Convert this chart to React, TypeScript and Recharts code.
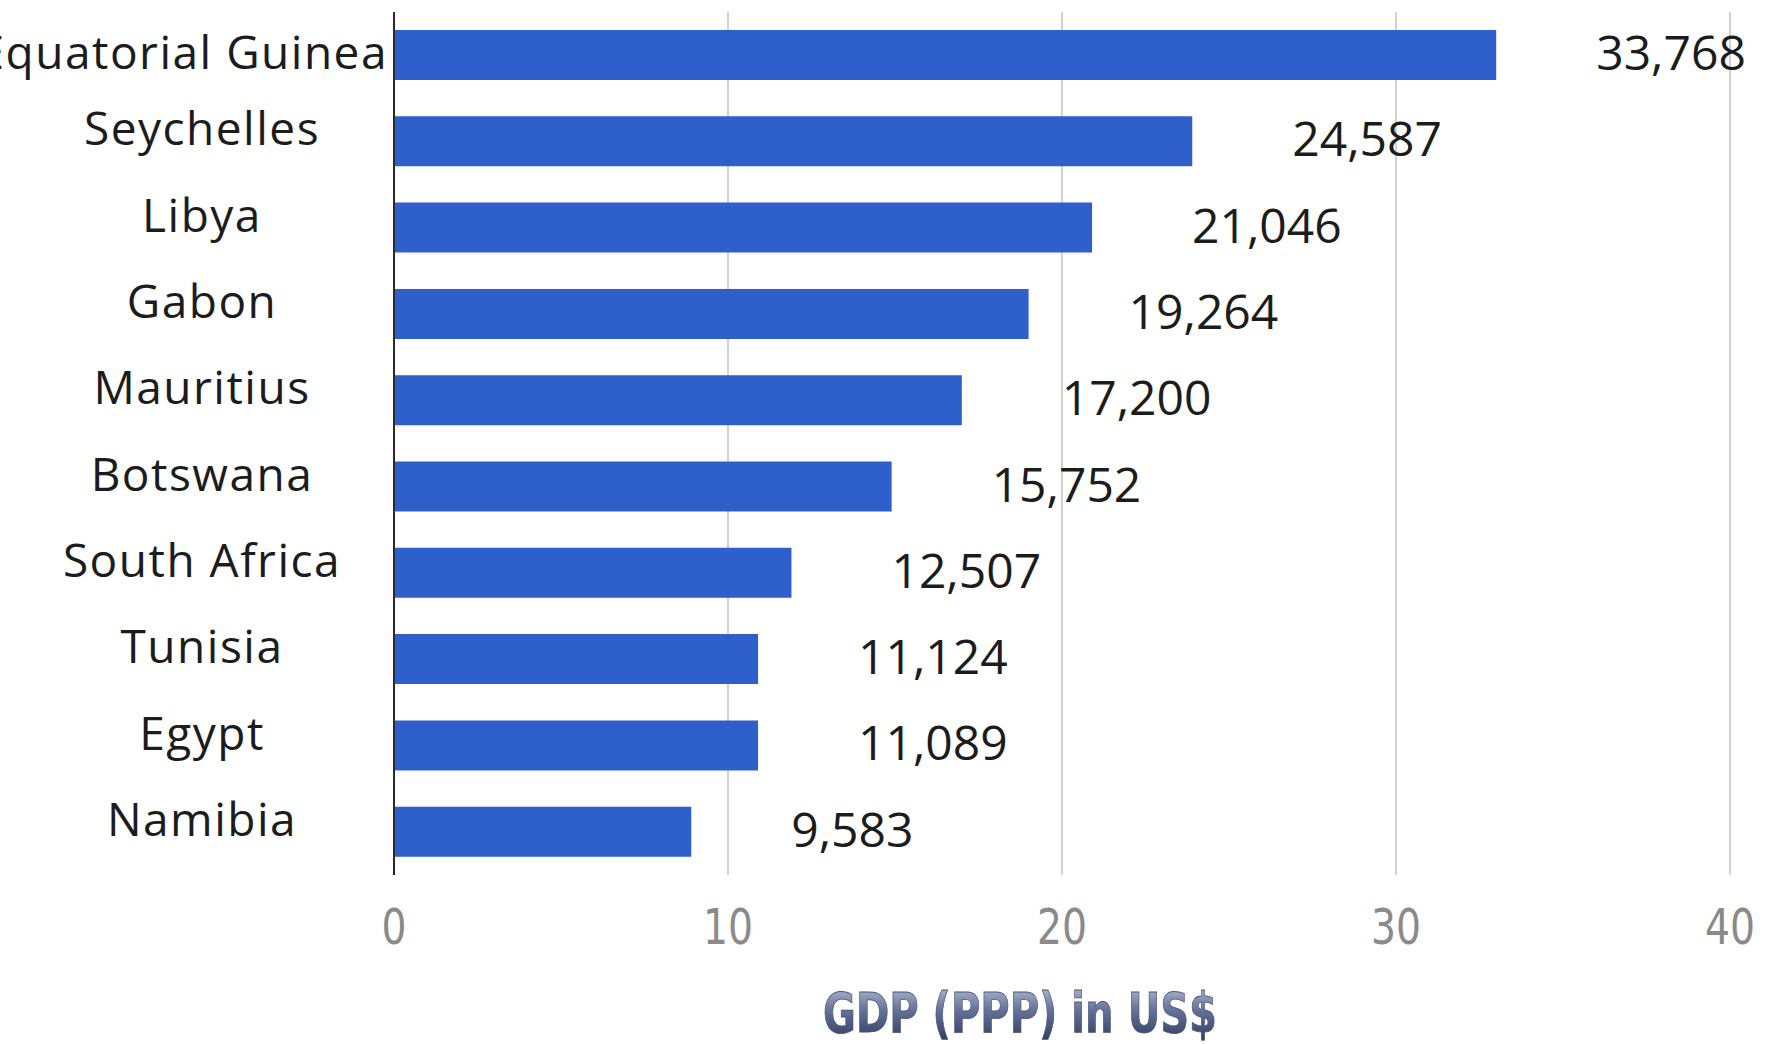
import React from "react";
import { Bar, BarChart, CartesianGrid, LabelList, XAxis, YAxis } from "recharts";

const countries = [
  "Equatorial Guinea",
  "Seychelles",
  "Libya",
  "Gabon",
  "Mauritius",
  "Botswana",
  "South Africa",
  "Tunisia",
  "Egypt",
  "Namibia",
];
// bar lengths as drawn in the picture (thousands of US$)
const gdpBars = [33.0, 23.9, 20.9, 19.0, 17.0, 14.9, 11.9, 10.9, 10.9, 8.9];
const valueLabels = ["33,768", "24,587", "21,046", "19,264", "17,200", "15,752", "12,507", "11,124", "11,089", "9,583"];
const xTicks = [0, 10, 20, 30, 40];
const axisTitle = "GDP (PPP) in US$";

const data = countries.map((name, i) => ({ name, gdp: gdpBars[i], label: valueLabels[i] }));

const TEXT = "#1c1c1c";
const BAR = "#2e5fcb";

function CountryTick(props: any) {
  const { x, y, payload } = props;
  // the long name is right-aligned against the axis (cut at the left edge, as in the original)
  const long = payload.value.length > 14;
  return (
    <text
      x={long ? x - 4 : x - 190}
      y={long ? y + 14 : y + 4}
      textAnchor={long ? "end" : "middle"}
      fontFamily="'Open Sans', sans-serif"
      fontSize={46}
      letterSpacing={1.5}
      fill={TEXT}
    >
      {payload.value}
    </text>
  );
}

function NumberTick(props: any) {
  const { x, y, payload } = props;
  const s = String(payload.value);
  return (
    <text
      x={x}
      y={y + 67}
      textAnchor="middle"
      fontFamily="'DejaVu Sans Condensed', 'DejaVu Sans', sans-serif"
      fontWeight={300}
      fontSize={50}
      fill="#8a8a8a"
      textLength={s.length * 25}
      lengthAdjust="spacingAndGlyphs"
    >
      {s}
    </text>
  );
}

function ValueLabel(props: any) {
  const { x, y, width, height, value } = props;
  return (
    <text
      x={x + width + 100}
      y={y + height / 2 + 15}
      fontFamily="'Open Sans', sans-serif"
      fontSize={48}
      fill={TEXT}
    >
      {value}
    </text>
  );
}

function AxisTitle(props: any) {
  const vb = props.viewBox || { x: 394, y: 875, width: 1336, height: 169 };
  return (
    <g>
      <defs>
        <linearGradient id="titleGrad" x1="0" y1="0" x2="0" y2="1">
          <stop offset="0%" stopColor="#c3cbe0" />
          <stop offset="45%" stopColor="#66749a" />
          <stop offset="100%" stopColor="#2b3558" />
        </linearGradient>
      </defs>
      <text
        x={vb.x + vb.width / 2 - 42}
        y={vb.y + 157}
        textAnchor="middle"
        fontFamily="'DejaVu Sans Condensed', 'DejaVu Sans', sans-serif"
        fontWeight="bold"
        fontSize={56}
        fill="url(#titleGrad)"
        stroke="#4a5578"
        strokeWidth={0.8}
        textLength={394}
        lengthAdjust="spacingAndGlyphs"
      >
        {axisTitle}
      </text>
    </g>
  );
}

export default function App() {
  return (
    <div style={{ position: "absolute", left: 0, top: 0, width: 1791, height: 1044, background: "#ffffff" }}>
      <BarChart
        width={1791}
        height={1044}
        data={data}
        layout="vertical"
        margin={{ top: 12, right: 61, bottom: 0, left: 0 }}
        barCategoryGap={0}
      >
        <CartesianGrid horizontal={false} stroke="#d2d2d2" strokeWidth={2} />
        <XAxis
          type="number"
          domain={[0, 40]}
          ticks={xTicks}
          axisLine={false}
          tickLine={false}
          tickSize={0}
          height={169}
          tick={<NumberTick />}
          label={<AxisTitle />}
        />
        <YAxis
          type="category"
          dataKey="name"
          width={394}
          axisLine={{ stroke: "#2a2a2a", strokeWidth: 2 }}
          tickLine={false}
          tickSize={0}
          tick={<CountryTick />}
          interval={0}
        />
        <Bar dataKey="gdp" fill={BAR} barSize={50} isAnimationActive={false}>
          <LabelList dataKey="label" content={<ValueLabel />} />
        </Bar>
      </BarChart>
    </div>
  );
}
